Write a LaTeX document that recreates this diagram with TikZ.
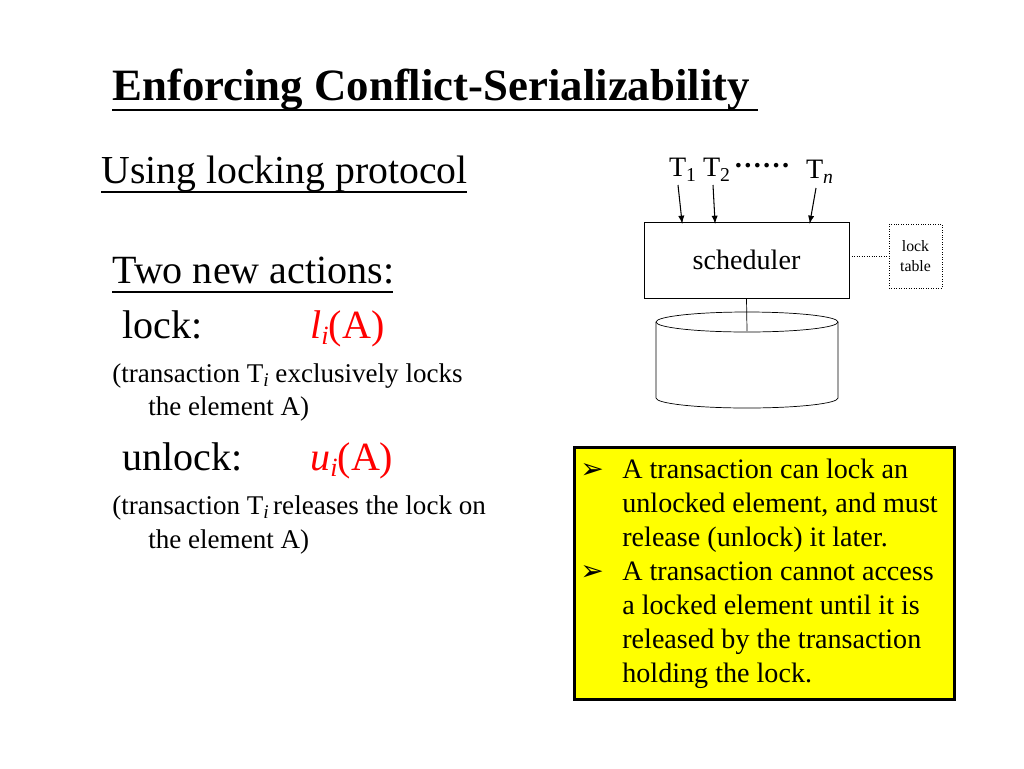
\documentclass[tikz,border=0pt]{standalone}
\usepackage{fontspec}
\setmainfont{Liberation Serif}
\newfontfamily\symfont{DejaVu Sans}
\usetikzlibrary{positioning,shapes.geometric,arrows}
\definecolor{boxyellow}{RGB}{255,255,0}
\tikzset{
  small/.style={anchor=base west, inner sep=0pt, font=\fontsize{15.4}{17}\selectfont},
  act/.style={anchor=base west, inner sep=0pt, font=\fontsize{22.8}{25}\selectfont},
  tr/.style={inner sep=0pt, font=\fontsize{16}{18}\selectfont},
  feed/.style={-latex, semithick, shorten >=-1pt},
}
\begin{document}
\begin{tikzpicture}[x=0.02cm,y=-0.02cm]
  \useasboundingbox (0,0) rectangle (1024,768);
  % heading
  \node[anchor=base west, inner sep=0pt, font=\fontsize{25.5}{27}\selectfont\bfseries] (title) at (112,100) {Enforcing Conflict-Serializability};
  \draw[line width=1pt] (112,110) -- (758,110);
  \node[act, font=\fontsize{22.6}{25}\selectfont] (using) at (101,183) {Using locking protocol};
  \draw[line width=0.8pt] (101,192) -- (467,192);
  % actions
  \node[act] (two) at (112,283) {Two new actions:};
  \draw[line width=0.8pt] (112,292) -- (393,292);
  \node[act] (lock) at (122,338) {lock:};
  \node[act, red] (li) at (310,338) {\textit{l}\raisebox{-0.35ex}{\fontsize{15}{16}\selectfont\textit{i}}(A)};
  \node[small] (lockd1) at (112,382) {(transaction T\raisebox{-0.4ex}{\fontsize{11}{12}\selectfont\textit{i}} exclusively locks};
  \node[small] (lockd2) at (148,415) {the element A)};
  \node[act] (unlock) at (122,470) {unlock:};
  \node[act, red] (ui) at (310,470) {\textit{u}\raisebox{-0.35ex}{\fontsize{15}{16}\selectfont\textit{i}}(A)};
  \node[small] (unld1) at (112,514) {(transaction T\raisebox{-0.4ex}{\fontsize{11}{12}\selectfont\textit{i}}\,releases the lock on};
  \node[small] (unld2) at (148,548) {the element A)};
  % scheduler diagram
  \node[draw, minimum width=205*0.02cm, minimum height=76*0.02cm, font=\fontsize{16}{18}\selectfont] (sched) at (746.5,260) {scheduler};
  \node[draw, densely dotted, minimum width=53*0.02cm, minimum height=64*0.02cm, align=center, font=\fontsize{9}{11}\selectfont] (table) at (915.5,256) {lock\\table};
  \draw[densely dotted] (sched.east |- table.west) -- (table.west);
  \node[tr] (t1) at (683,170) {T\textsubscript{1}};
  \node[tr] (t2) at (717,170) {T\textsubscript{2}};
  \node[tr] (dots) at (762,166) {\textbf{\dots\dots}};
  \node[tr] (tn) at (820,172) {T\textsubscript{\textit{n}}};
  \coordinate (s1) at (678,185);
  \coordinate (s2) at (713,185);
  \coordinate (sn) at (816,188);
  \coordinate (a1) at (682,222);
  \coordinate (a2) at (715,222);
  \coordinate (an) at (810,222);
  \draw[feed] (s1) -- (a1);
  \draw[feed] (s2) -- (a2);
  \draw[feed] (sn) -- (an);
  % disk
  \coordinate (dtop) at (747,322);
  \draw (656,322) -- (656,398) arc[start angle=180, end angle=360, x radius=91*0.02cm, y radius=10*0.02cm] -- (838,322);
  \draw (dtop) ellipse[x radius=91*0.02cm, y radius=10*0.02cm];
  \draw (sched.south) -- (747,331);
  % rules box
  \node[draw, line width=1.6pt, fill=boxyellow, minimum width=380*0.02cm, minimum height=252*0.02cm, anchor=north west] (rules) at (573,446) {};
  \foreach \y/\t in {478/A transaction can lock an, 512/{unlocked element, and must}, 546/release (unlock) it later., 580/A transaction cannot access, 614/a locked element until it is, 648/released by the transaction, 682/holding the lock.}
    \node[small, font=\fontsize{16}{18}\selectfont] at (622,\y) {\t};
  \node[small, font=\symfont\fontsize{16}{17}\selectfont] (b1) at (580,478) {➢};
  \node[small, font=\symfont\fontsize{16}{17}\selectfont] (b2) at (580,580) {➢};
\end{tikzpicture}
\end{document}
